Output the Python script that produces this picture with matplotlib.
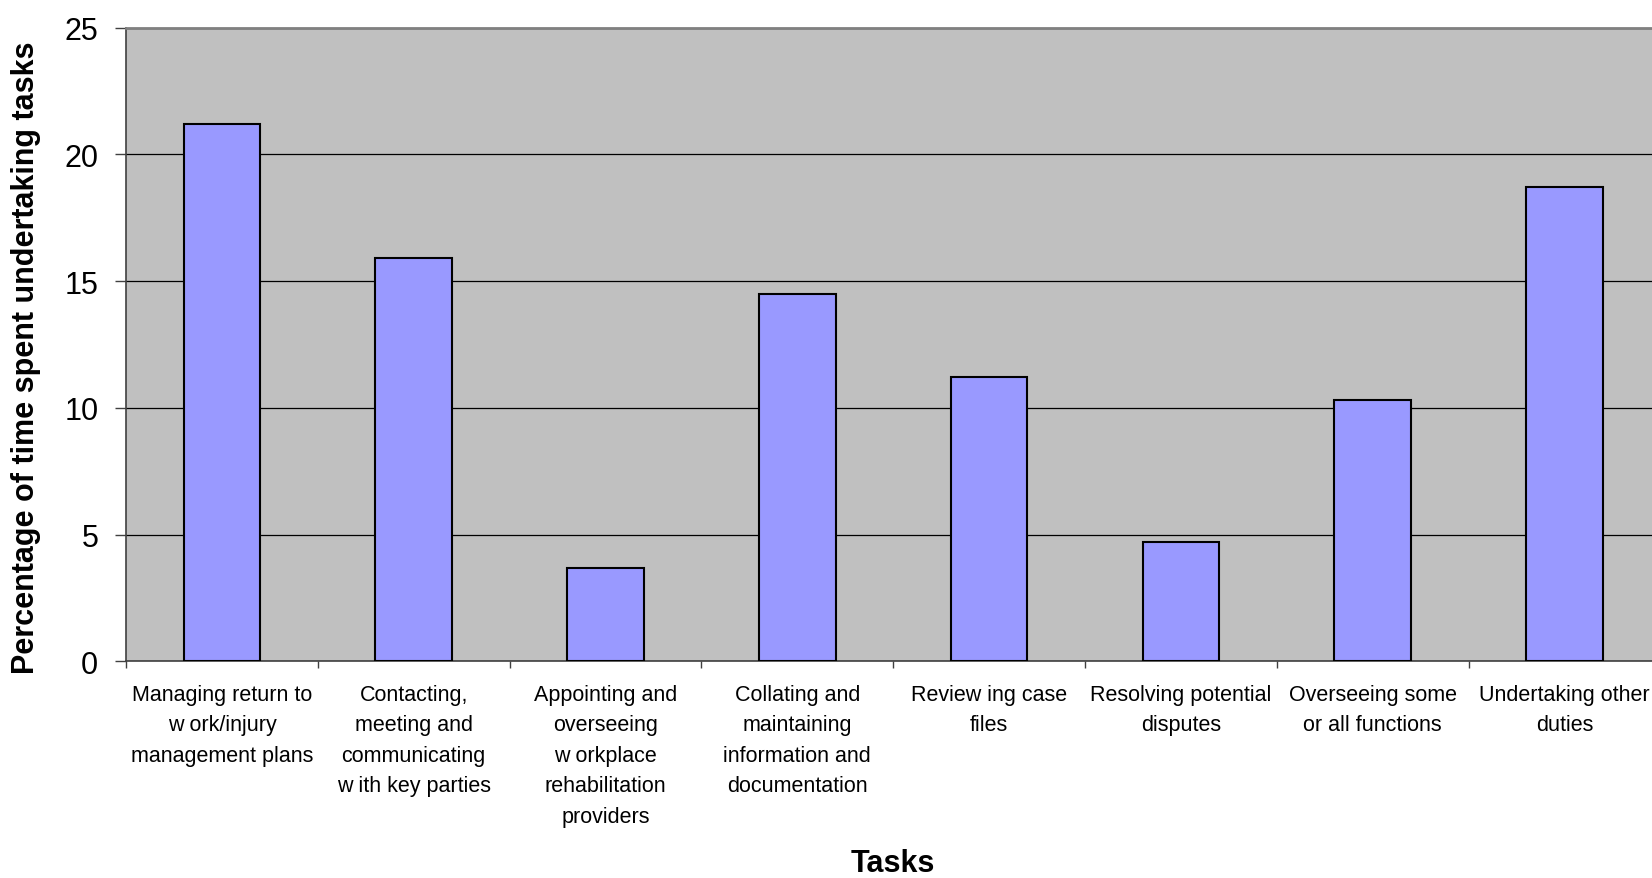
import numpy as np
import matplotlib.pyplot as plt

plt.rcParams["font.family"] = ["Liberation Sans", "DejaVu Sans"]

tasks = [
    "Managing return to\nw ork/injury\nmanagement plans",
    "Contacting,\nmeeting and\ncommunicating\nw ith key parties",
    "Appointing and\noverseeing\nw orkplace\nrehabilitation\nproviders",
    "Collating and\nmaintaining\ninformation and\ndocumentation",
    "Review ing case\nfiles",
    "Resolving potential\ndisputes",
    "Overseeing some\nor all functions",
    "Undertaking other\nduties",
]
time_pct = [21.2, 15.9, 3.7, 14.5, 11.2, 4.7, 10.3, 18.7]
y_ticks = [0, 5, 10, 15, 20, 25]

fig = plt.figure(figsize=(16.52, 8.79), dpi=100)
# plot area runs slightly past the right edge of the canvas
ax = fig.add_axes([0.0763, 0.2465, 0.9288, 0.7210])
ax.set_facecolor("#C0C0C0")

x = np.arange(len(tasks))
ax.bar(x, time_pct, width=0.4, color="#9999FF", edgecolor="black",
       linewidth=1.5, zorder=3)

ax.set_xlim(-0.5, len(tasks) - 0.5)
ax.set_ylim(0, 25)
ax.set_yticks(y_ticks)
ax.yaxis.grid(True, color="black", linewidth=0.9, zorder=1)
ax.set_axisbelow(True)

# category ticks sit on the boundaries, labels sit under the bars
ax.set_xticks(np.arange(len(tasks) + 1) - 0.5)
ax.set_xticklabels([])
ax.set_xticks(x, minor=True)
ax.set_xticklabels(tasks, minor=True, fontsize=15.5, linespacing=1.6,
                   va="top", ha="center")
ax.tick_params(axis="x", which="minor", length=0, pad=16)
ax.tick_params(axis="x", which="major", length=5, width=1, color="#404040")
ax.tick_params(axis="y", length=8, width=1, color="#404040",
               labelsize=22, pad=12)

for side in ("left", "bottom"):
    ax.spines[side].set_color("#404040")
    ax.spines[side].set_linewidth(1.2)
ax.spines["top"].set_color("#808080")
ax.spines["top"].set_linewidth(2)
ax.spines["right"].set_visible(False)

ax.set_ylabel("Percentage of time spent undertaking tasks", fontsize=22,
              fontweight="bold")
ax.yaxis.set_label_coords(-0.0555, 0.48)
ax.set_xlabel("Tasks", fontsize=22, fontweight="bold", va="center")
ax.xaxis.set_label_coords(0.5, -0.318)

fig.savefig("out.png", dpi=100)
